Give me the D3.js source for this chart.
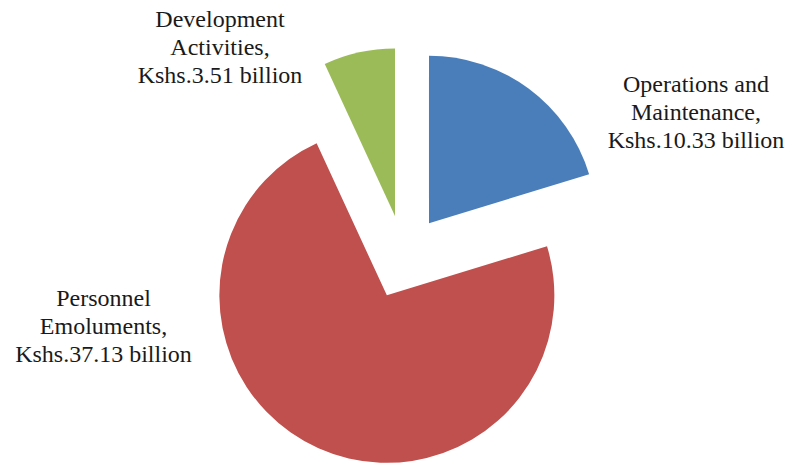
<!DOCTYPE html>
<html>
<head>
<meta charset="utf-8">
<script src="https://cdn.jsdelivr.net/npm/d3@7"></script>
</head>
<body style="margin:0">
<svg id="chart" width="794" height="466"></svg>
<script>
// Budget allocation (Kshs. billion)
const categories = ["Operations and Maintenance", "Personnel Emoluments", "Development Activities"];
const values = [10.33, 37.13, 3.51];
const labelLines = [
  ["Operations and", "Maintenance,"],
  ["Personnel", "Emoluments,"],
  ["Development", "Activities,"]
];
const colors = ["#4A7EBB", "#C0504D", "#9BBB59"];

const cx = 404, cy = 257;
const radius = 167.5;
const explode = 42;          // each slice pushed out along its mid-angle
const fontSize = 24, lineGap = 28;
// label block anchors (centre x, first baseline y)
const labelAnchor = [[696, 92], [103.5, 306], [220, 27]];

const svg = d3.select("#chart");
const g = svg.append("g").attr("transform", `translate(${cx},${cy})`);

const data = categories.map((c, i) => ({ name: c, value: values[i], i }));
const pie = d3.pie().value(d => d.value).sort(null).startAngle(0).endAngle(2 * Math.PI);
const arc = d3.arc().innerRadius(0).outerRadius(radius);
const arcs = pie(data);

g.selectAll("path.slice")
  .data(arcs)
  .join("path")
  .attr("class", "slice")
  .attr("d", arc)
  .attr("fill", d => colors[d.data.i])
  .attr("transform", d => {
    const mid = (d.startAngle + d.endAngle) / 2;
    return `translate(${Math.sin(mid) * explode},${-Math.cos(mid) * explode})`;
  });

// one text element per label line
const lineData = [];
arcs.forEach(d => {
  const i = d.data.i;
  const lines = labelLines[i].concat([`Kshs.${d.data.value.toFixed(2)} billion`]);
  lines.forEach((t, k) => lineData.push({ t, x: labelAnchor[i][0], y: labelAnchor[i][1] + k * lineGap }));
});

svg.selectAll("text.lbl")
  .data(lineData)
  .join("text")
  .attr("class", "lbl")
  .attr("x", d => d.x)
  .attr("y", d => d.y)
  .attr("text-anchor", "middle")
  .style("font-family", "'Liberation Serif'")
  .style("font-size", fontSize + "px")
  .style("fill", "#1a1a1a")
  .text(d => d.t);
</script>
</body>
</html>
